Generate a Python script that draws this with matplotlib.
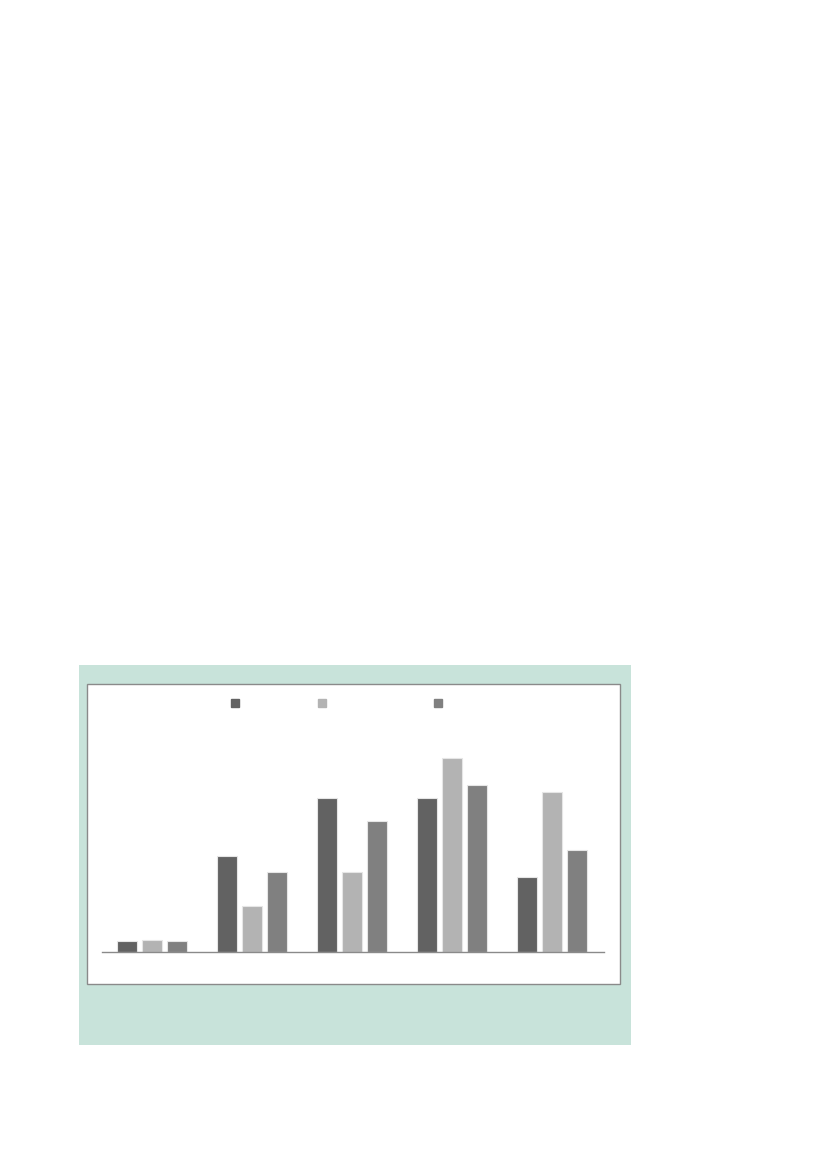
import matplotlib
matplotlib.use("Agg")
import matplotlib.pyplot as plt
import numpy as np
from matplotlib.patches import Rectangle
from matplotlib.lines import Line2D

categories = ["", "", "", "", ""]
series_a = [11, 96, 154, 154, 75]
series_b = [12, 46, 80, 194, 160]
series_c = [11, 80, 131, 167, 102]
colors = ["#626262", "#b3b3b3", "#808080"]

W, H = 827, 1170
fig = plt.figure(figsize=(W / 100, H / 100), dpi=100)

def fx(px):
    return px / W

def fy(py):
    return 1 - py / H

# green panel
fig.add_artist(Rectangle((fx(79), fy(1045)), fx(631) - fx(79), fy(665) - fy(1045),
                         transform=fig.transFigure, facecolor="#c8e3da", edgecolor="none", zorder=-2))
# white box
fig.add_artist(Rectangle((fx(87), fy(984)), fx(620) - fx(87), fy(684) - fy(984),
                         transform=fig.transFigure, facecolor="white", edgecolor="#8a8a8a",
                         linewidth=1.0, zorder=-1))

ax = fig.add_axes([fx(102), fy(952), fx(604) - fx(102), fy(720) - fy(952)])
ax.set_zorder(1)
ax.set_facecolor("none")
x = np.arange(len(categories))
w = 0.2
for off, vals, c in zip([-0.25, 0, 0.25], [series_a, series_b, series_c], colors):
    ax.bar(x + off, vals, width=w, color=c, edgecolor="#e6e6e6", linewidth=0.8, zorder=2)
ax.set_xlim(-0.5, 4.52)
ax.set_ylim(0, 232)
for s in ["top", "left", "right"]:
    ax.spines[s].set_visible(False)
ax.spines["bottom"].set_color("#8a8a8a")
ax.spines["bottom"].set_linewidth(1.0)
ax.set_xticks([])
ax.set_yticks([])

# legend markers (labels empty as in reference)
for px, c, ms in zip([235, 322, 438], colors, [6, 5.5, 5.5]):
    h = Line2D([], [], marker="s", linestyle="", color=c, markersize=ms)
    leg = fig.legend([h], [""], loc="center", bbox_to_anchor=(fx(px), fy(704)),
                     frameon=False, handlelength=1, handletextpad=0, borderpad=0,
                     borderaxespad=0)
    leg.set_zorder(2)

fig.savefig("out.png", dpi=100)
